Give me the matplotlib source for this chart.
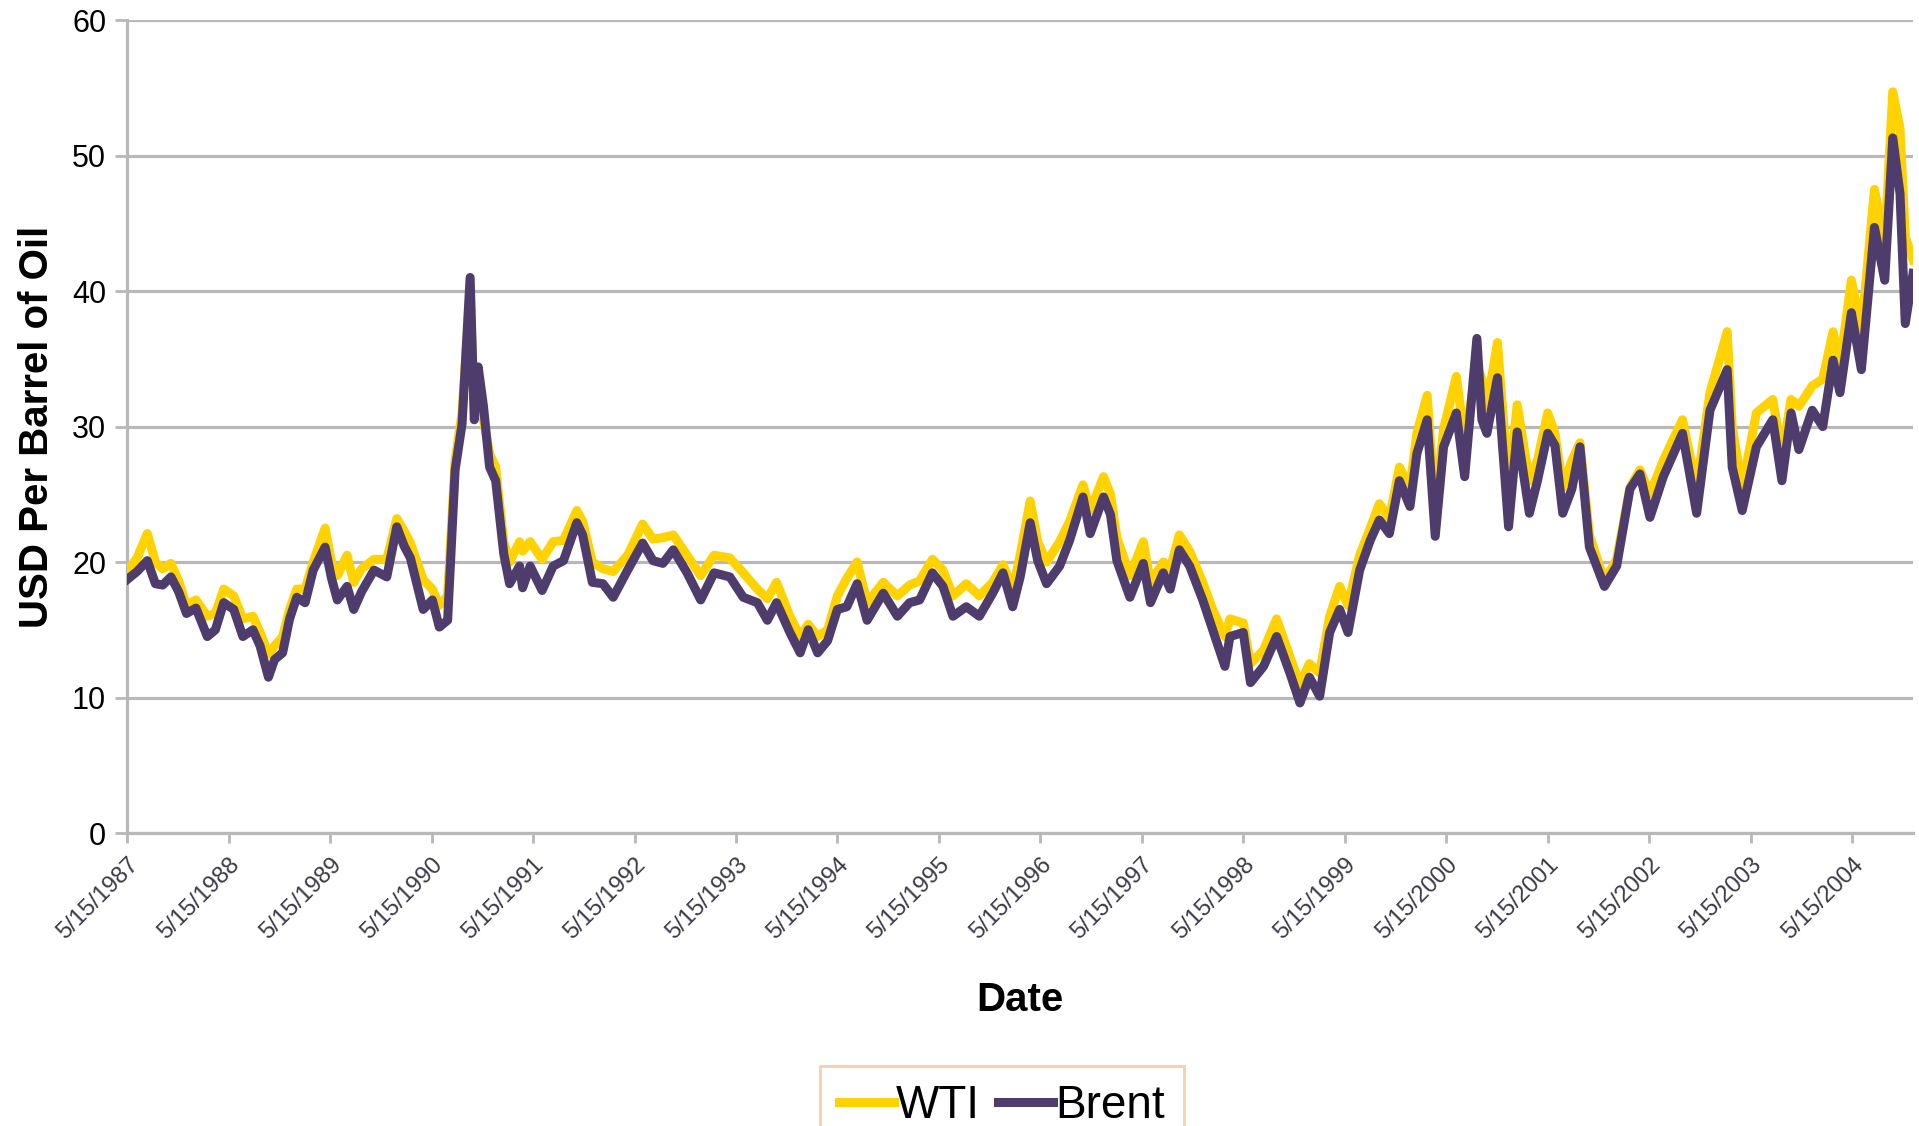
import matplotlib
matplotlib.use("Agg")
import matplotlib.pyplot as plt
import pandas as pd

# weekly-ish turning points (USD per barrel)
dates = [
    "1987-05-15", "1987-06-20", "1987-07-27", "1987-08-25", "1987-09-20", "1987-10-20",
    "1987-11-17", "1987-12-15", "1988-01-18", "1988-02-28", "1988-03-28", "1988-04-27",
    "1988-06-02", "1988-07-05", "1988-08-10", "1988-09-05", "1988-10-05", "1988-10-27",
    "1988-11-25", "1988-12-20", "1989-01-15", "1989-02-14", "1989-03-15", "1989-04-27",
    "1989-05-20", "1989-06-10", "1989-07-15", "1989-08-08", "1989-09-05", "1989-10-20",
    "1989-12-05", "1990-01-10", "1990-02-05", "1990-02-28", "1990-04-15", "1990-05-18",
    "1990-06-12", "1990-07-12", "1990-08-08", "1990-09-02", "1990-10-01", "1990-10-16",
    "1990-10-30", "1990-11-18", "1990-12-10", "1991-01-01", "1991-01-30", "1991-02-20",
    "1991-03-28", "1991-04-08", "1991-05-05", "1991-06-17", "1991-07-27", "1991-09-02",
    "1991-10-20", "1991-11-10", "1991-12-15", "1992-01-22", "1992-02-28", "1992-04-20",
    "1992-06-13", "1992-07-20", "1992-08-25", "1992-10-01", "1992-11-20", "1993-01-08",
    "1993-02-25", "1993-04-23", "1993-06-10", "1993-07-31", "1993-09-05", "1993-10-08",
    "1993-11-25", "1994-01-01", "1994-01-30", "1994-03-05", "1994-04-10", "1994-05-15",
    "1994-06-18", "1994-07-25", "1994-08-30", "1994-10-27", "1994-12-17", "1995-01-30",
    "1995-03-07", "1995-04-22", "1995-05-30", "1995-07-05", "1995-08-22", "1995-10-08",
    "1995-11-25", "1996-01-01", "1996-02-05", "1996-03-03", "1996-04-08", "1996-05-05",
    "1996-06-06", "1996-07-23", "1996-08-28", "1996-10-15", "1996-11-10", "1996-12-28",
    "1997-01-22", "1997-02-14", "1997-04-02", "1997-05-20", "1997-06-15", "1997-07-31",
    "1997-08-25", "1997-09-27", "1997-11-03", "1997-12-20", "1998-01-25", "1998-03-10",
    "1998-03-28", "1998-05-15", "1998-06-10", "1998-07-27", "1998-09-12", "1998-10-30",
    "1998-12-05", "1999-01-08", "1999-02-14", "1999-03-22", "1999-04-27", "1999-05-27",
    "1999-07-08", "1999-08-15", "1999-09-17", "1999-10-23", "1999-11-28", "2000-01-05",
    "2000-01-30", "2000-03-07", "2000-04-05", "2000-05-05", "2000-06-20", "2000-07-20",
    "2000-09-02", "2000-09-20", "2000-10-08", "2000-11-15", "2000-12-25", "2001-01-25",
    "2001-03-10", "2001-04-08", "2001-05-15", "2001-06-10", "2001-07-08", "2001-08-10",
    "2001-09-08", "2001-10-12", "2001-12-05", "2002-01-18", "2002-03-07", "2002-04-12",
    "2002-05-18", "2002-07-05", "2002-09-12", "2002-11-02", "2002-12-20", "2003-02-20",
    "2003-03-10", "2003-04-15", "2003-06-05", "2003-08-03", "2003-09-05", "2003-10-08",
    "2003-11-05", "2003-12-23", "2004-01-30", "2004-03-07", "2004-04-01", "2004-05-12",
    "2004-06-17", "2004-08-03", "2004-09-09", "2004-10-08", "2004-11-03", "2004-11-22",
    "2004-12-20",
]

brent = [
    18.7, 19.3, 20.1, 18.4, 18.3, 18.9,
    17.8, 16.2, 16.6, 14.5, 15.0, 17.0,
    16.5, 14.5, 15.0, 13.8, 11.5, 12.8,
    13.3, 15.8, 17.4, 17.0, 19.4, 21.1,
    18.8, 17.2, 18.2, 16.5, 17.8, 19.4,
    18.9, 22.6, 21.2, 20.3, 16.5, 17.2,
    15.2, 15.7, 26.8, 30.2, 41.0, 30.5,
    34.4, 31.5, 27.0, 26.0, 20.6, 18.4,
    19.7, 18.1, 19.7, 17.9, 19.7, 20.1,
    22.9, 22.0, 18.5, 18.4, 17.4, 19.4,
    21.4, 20.1, 19.9, 20.9, 19.2, 17.2,
    19.2, 18.9, 17.4, 17.0, 15.7, 17.0,
    14.8, 13.3, 15.0, 13.3, 14.2, 16.5,
    16.7, 18.4, 15.7, 17.7, 16.0, 17.0,
    17.2, 19.2, 18.2, 16.0, 16.7, 16.0,
    17.7, 19.2, 16.7, 18.9, 22.9, 20.1,
    18.4, 19.7, 21.6, 24.8, 22.1, 24.8,
    23.5, 20.1, 17.4, 19.9, 17.0, 19.2,
    18.0, 20.9, 19.7, 17.2, 15.0, 12.3,
    14.5, 14.8, 11.1, 12.3, 14.5, 11.8,
    9.6, 11.5, 10.1, 14.8, 16.5, 14.8,
    19.4, 21.6, 23.1, 22.1, 26.0, 24.1,
    28.0, 30.5, 21.9, 28.5, 31.0, 26.3,
    36.5, 30.5, 29.5, 33.6, 22.6, 29.6,
    23.6, 26.0, 29.5, 28.6, 23.6, 25.4,
    28.5, 21.1, 18.2, 19.7, 25.4, 26.5,
    23.3, 26.3, 29.5, 23.6, 31.2, 34.2,
    27.0, 23.8, 28.5, 30.5, 26.0, 31.0,
    28.3, 31.2, 30.0, 34.9, 32.5, 38.4,
    34.2, 44.7, 40.8, 51.3, 47.2, 37.6,
    41.3,
]

wti = [
    19.3, 20.3, 22.1, 20.0, 19.5, 19.9,
    18.6, 16.8, 17.2, 16.0, 16.2, 18.0,
    17.5, 15.8, 16.0, 14.8, 13.2, 13.8,
    14.5, 16.5, 18.0, 18.0, 20.0, 22.5,
    20.0, 19.0, 20.5, 18.5, 19.5, 20.2,
    20.2, 23.2, 22.3, 21.4, 18.7, 18.0,
    16.8, 17.5, 27.5, 31.0, 40.0, 31.0,
    34.0, 30.5, 28.0, 27.0, 21.5, 20.0,
    21.5, 20.8, 21.5, 20.2, 21.5, 21.6,
    23.8, 23.0, 20.0, 19.5, 19.3, 20.5,
    22.8, 21.7, 21.8, 22.0, 20.5, 19.0,
    20.5, 20.3, 19.2, 18.0, 17.3, 18.5,
    16.0, 14.5, 15.4, 14.5, 15.0, 17.5,
    18.8, 20.0, 17.0, 18.5, 17.5, 18.3,
    18.6, 20.2, 19.4, 17.5, 18.4, 17.5,
    18.5, 19.8, 18.0, 20.5, 24.5, 21.5,
    20.0, 21.5, 23.0, 25.7, 23.8, 26.3,
    25.0, 21.8, 19.0, 21.5, 18.5, 20.0,
    19.5, 22.0, 20.8, 18.5, 16.5, 14.5,
    15.8, 15.5, 12.5, 13.5, 15.8, 13.0,
    11.0, 12.5, 11.8, 16.0, 18.2, 16.8,
    20.5, 22.5, 24.3, 23.2, 27.0, 25.5,
    29.5, 32.3, 24.0, 29.8, 33.7, 29.0,
    34.5, 33.5, 31.5, 36.2, 25.5, 31.6,
    26.0, 27.5, 31.0, 29.5, 25.5, 27.5,
    28.8, 22.0, 18.6, 20.2, 25.5, 26.8,
    25.0, 27.5, 30.5, 25.5, 32.5, 37.0,
    30.0, 25.5, 31.0, 32.0, 28.0, 32.0,
    31.5, 33.0, 33.5, 37.0, 34.5, 40.8,
    37.0, 47.5, 43.5, 54.7, 52.0, 44.0,
    42.3,
]

tick_years = list(range(1987, 2005))
y_ticks = [0, 10, 20, 30, 40, 50, 60]

dt = pd.to_datetime(dates)
tick_dates = [pd.Timestamp(f"{y}-05-15") for y in tick_years]
tick_labels = [f"5/15/{y}" for y in tick_years]

plt.rcParams['font.family'] = ['Liberation Sans', 'DejaVu Sans']

fig = plt.figure(figsize=(19.19, 11.26), dpi=100)
ax = fig.add_axes([0.0662, 0.2602, 0.9307, 0.7220])

grid_col = "#b8b8b8"
ax.plot(dt, wti, color="#FFD200", lw=6.5, solid_joinstyle="round", label="WTI", zorder=3)
ax.plot(dt, brent, color="#4E3D6C", lw=6.5, solid_joinstyle="round", label="Brent", zorder=4)

ax.set_ylim(0, 60)
ax.set_xlim(pd.Timestamp("1987-05-15"), pd.Timestamp("2004-12-20"))
ax.set_yticks(y_ticks)
ax.set_xticks(tick_dates)
ax.set_xticklabels(tick_labels, rotation=45, ha="right", rotation_mode="anchor",
                   fontsize=17, color="#3a3a48")
ax.tick_params(axis="y", labelsize=22, length=9, width=2, color=grid_col, pad=6)
ax.tick_params(axis="x", length=7, width=2, color=grid_col, pad=8)

ax.yaxis.grid(True, color=grid_col, lw=2.3)
ax.set_axisbelow(True)
for s in ["top", "right"]:
    ax.spines[s].set_visible(False)
for s in ["left", "bottom"]:
    ax.spines[s].set_color(grid_col)
    ax.spines[s].set_linewidth(2.3)

fig.text(0.0195, 0.621, "USD Per Barrel of Oil", rotation=90, fontsize=29,
         fontweight="bold", ha="center", va="center")
fig.text(0.5315, 0.112, "Date", fontsize=29, fontweight="bold", ha="center", va="center")

leg = fig.legend(loc="upper center", bbox_to_anchor=(0.5222, 1 - 1066 / 1126), ncol=2,
                 fontsize=33, frameon=True, fancybox=False, handlelength=1.2,
                 handletextpad=0.05, columnspacing=0.4, borderpad=0.4, borderaxespad=0)
leg.get_frame().set_edgecolor("#f6c39a")
leg.get_frame().set_linewidth(2)

fig.savefig("out.png", dpi=100)
